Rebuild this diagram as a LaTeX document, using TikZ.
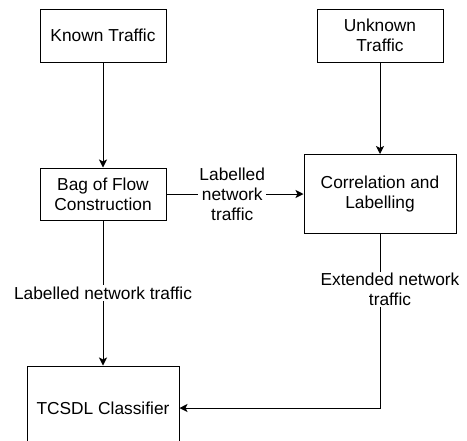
\documentclass[tikz,border=0pt]{standalone}
\usepackage{fontspec}
\setmainfont{Liberation Sans}
\usetikzlibrary{arrows.meta}

\begin{document}
\begin{tikzpicture}[x=0.75pt,y=-0.75pt,
    every node/.style={font=\fontsize{13}{15}\selectfont},
    box/.style={draw,line width=0.75pt,align=center,inner sep=0pt},
    flow/.style={draw,line width=0.75pt,-{Stealth[length=6pt,width=6pt,inset=1.5pt]}},
    lbl/.style={fill=white,align=center,inner sep=1pt}]
                \clip (0,0) rectangle (467,440);

                \node[box,minimum width=94.5pt,minimum height=39.75pt] (known) at (103,35.5) {Known Traffic};
                \node[box,minimum width=94.5pt,minimum height=39.75pt] (unknown) at (380,35.5) {Unknown\\Traffic};
                \node[box,minimum width=94.5pt,minimum height=39pt] (bag) at (103,194) {Bag of Flow\\Construction};
                \node[box,minimum width=114pt,minimum height=59.25pt] (corr) at (380,194) {Correlation and\\Labelling};
                \node[box,minimum width=114pt,minimum height=63pt] (tcsdl) at (103,408) {TCSDL Classifier};

                \draw[flow] (known) -- (bag);
                \draw[flow] (unknown) -- (corr);
                \draw[flow] (bag) -- node[lbl,pos=0.48] {Labelled\\network\\traffic} (corr);
                \draw[flow] (bag) -- node[lbl] {Labelled network traffic} (tcsdl);
                \draw[flow] (corr) |- node[lbl,pos=0.16,xshift=7.5pt] {Extended network\\traffic} (tcsdl);
\end{tikzpicture}
\end{document}
